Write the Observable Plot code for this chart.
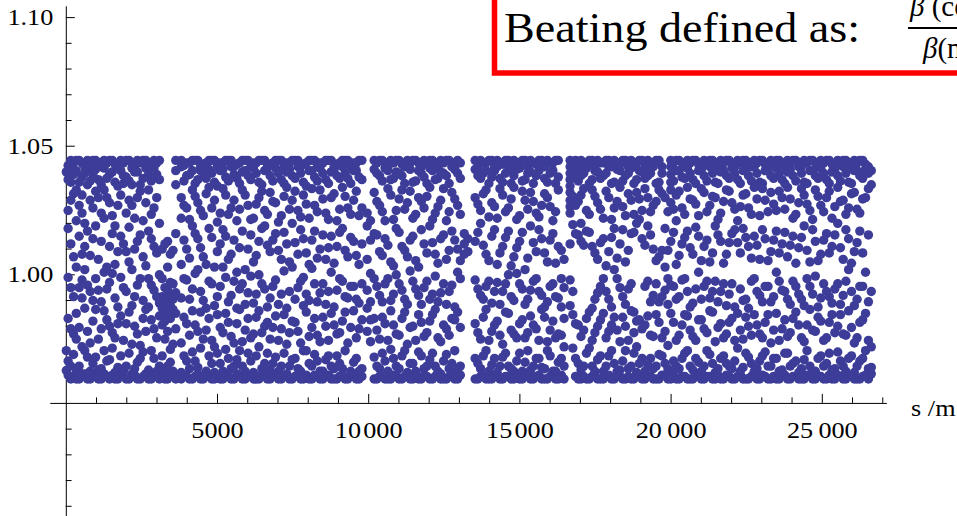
<!DOCTYPE html>
<html>
<head>
<meta charset="utf-8">
<script src="https://cdn.jsdelivr.net/npm/d3@7"></script>
<script src="https://cdn.jsdelivr.net/npm/@observablehq/plot@0.6"></script>
<style>
  html, body { margin: 0; padding: 0; background: #fff; overflow: hidden; }
  #wrap { position: relative; width: 957px; height: 516px; overflow: hidden; }
  #wrap > svg.plot { position: absolute; left: 0; top: 0; }
  #titlebox { position: absolute; left: 0; top: 0; pointer-events: none; }
</style>
</head>
<body>
<div id="wrap"></div>
<script>
// ---- data: each row is [s (m), beating values read at that s ...] ----
const sector1 = [
  [0, 1.040, 0.9705, 0.9628],
  [60, 1.0425, 1.037, 1.025, 1.018, 0.999, 0.983, 0.9665, 0.961],
  [150, 1.0445, 1.042, 1.036, 1.029, 1.012, 0.995, 0.979, 0.9645, 0.9595],
  [240, 1.0435, 1.039, 1.0315, 1.007, 0.9915, 0.977, 0.969, 0.9605],
  [330, 1.0445, 1.0405, 1.033, 1.021, 1.003, 0.985, 0.975, 0.962, 0.9595],
  [425, 1.0445, 1.036, 1.027, 1.015, 0.995, 0.9795, 0.9645, 0.9595],
  [520, 1.0435, 1.038, 1.031, 1.024, 1.008, 0.998, 0.991, 0.972, 0.9615],
  [610, 1.042, 1.0395, 1.020, 1.011, 1.002, 0.987, 0.9705, 0.9615],
  [700, 1.0445, 1.041, 1.035, 1.017, 0.996, 0.978, 0.968, 0.9595],
  [790, 1.0435, 1.0365, 1.029, 1.0075, 0.9935, 0.9735, 0.9625, 0.9595],
  [880, 1.0445, 1.039, 1.026, 1.014, 0.990, 0.982, 0.9655, 0.9605],
  [970, 1.0445, 1.041, 1.0325, 1.019, 0.9985, 0.9865, 0.968, 0.9605],
  [1060, 1.0435, 1.037, 1.030, 1.006, 0.994, 0.975, 0.963, 0.9595],
  [1155, 1.042, 1.035, 1.024, 1.013, 0.9895, 0.979, 0.9635, 0.9595],
  [1250, 1.0445, 1.0415, 1.033, 1.022, 1.001, 0.986, 0.9705, 0.9615],
  [1340, 1.0435, 1.0375, 1.030, 1.003, 0.9945, 0.9825, 0.9665, 0.9605],
  [1430, 1.0445, 1.039, 1.028, 1.011, 0.997, 0.980, 0.967, 0.9595],
  [1520, 1.0445, 1.040, 1.023, 1.016, 1.0005, 0.9775, 0.9715, 0.961],
  [1610, 1.043, 1.036, 1.019, 1.004, 0.991, 0.9755, 0.962, 0.9595],
  [1705, 1.042, 1.0345, 1.027, 1.009, 0.9875, 0.981, 0.964, 0.9595],
  [1800, 1.0445, 1.0405, 1.031, 1.015, 0.999, 0.984, 0.9685, 0.961],
  [1890, 1.0435, 1.0385, 1.0355, 1.012, 0.995, 0.9745, 0.9625, 0.9605],
  [1980, 1.0445, 1.038, 1.024, 1.009, 0.9935, 0.981, 0.9645, 0.9595],
  [2075, 1.0445, 1.0365, 1.029, 1.0185, 1.005, 0.9855, 0.9695, 0.9595],
  [2170, 1.0435, 1.0415, 1.035, 1.027, 1.002, 0.988, 0.973, 0.9615],
  [2260, 1.042, 1.040, 1.022, 1.010, 0.9915, 0.980, 0.9635, 0.961],
  [2350, 1.0445, 1.040, 1.030, 1.013, 0.996, 0.977, 0.966, 0.9595],
  [2445, 1.0435, 1.035, 1.0325, 1.0155, 0.9985, 0.9725, 0.9675, 0.9595],
  [2540, 1.0445, 1.0375, 1.021, 1.007, 0.990, 0.983, 0.970, 0.9605],
  [2630, 1.0445, 1.0415, 1.028, 1.0035, 0.9865, 0.978, 0.9615, 0.9605],
  [2720, 1.043, 1.039, 1.033, 1.017, 0.9985, 0.9875, 0.963, 0.9595],
  [2810, 1.042, 1.0365, 1.0235, 1.014, 0.996, 0.9825, 0.9705, 0.9595],
  [2900, 1.0445, 1.0415, 1.026, 1.011, 0.994, 0.979, 0.9675, 0.9615],
  [2990, 1.0435, 1.039, 1.030, 1.0085, 0.9915, 0.9755, 0.9625, 0.9605],
  [3080, 1.0445, 1.037, 1.020, 1.000, 0.989, 0.984, 0.9645, 0.9595],
  [3170, 1.010, 0.9985, 0.9915, 0.987, 0.9805, 0.9685, 0.9605],
  [3260, 1.012, 0.995, 0.990, 0.986, 0.982, 0.975, 0.9625, 0.9595],
  [3350, 1.013, 1.003, 0.994, 0.9895, 0.9845, 0.978, 0.9645, 0.9595],
  [3440, 1.008, 0.997, 0.9925, 0.988, 0.983, 0.971, 0.966, 0.9605],
  [3530, 1.0095, 0.9965, 0.9905, 0.9865, 0.973, 0.9625, 0.9605],
  [3620, 1.0445, 1.0405, 1.035, 1.016, 0.993, 0.985, 0.979, 0.9595]
];
const sector2 = [
  [3800, 1.0445, 1.042, 1.030, 1.022, 1.004, 0.991, 0.9735, 0.962, 0.9595],
  [3890, 1.0425, 1.0365, 1.027, 1.0135, 0.9985, 0.9835, 0.9685, 0.961],
  [3980, 1.0435, 1.0385, 1.026, 1.010, 0.998, 0.981, 0.9665, 0.9605],
  [4075, 1.0435, 1.039, 1.0215, 1.0065, 0.9905, 0.9765, 0.9635, 0.9595],
  [4170, 1.0445, 1.0405, 1.033, 1.019, 0.9945, 0.986, 0.970, 0.9595],
  [4260, 1.0445, 1.0355, 1.0305, 1.016, 1.0005, 0.9805, 0.9665, 0.9605],
  [4350, 1.0445, 1.037, 1.028, 1.014, 1.002, 0.978, 0.964, 0.9615],
  [4440, 1.042, 1.0405, 1.025, 1.0105, 0.9935, 0.9855, 0.9715, 0.9595],
  [4530, 1.043, 1.0395, 1.023, 1.007, 0.990, 0.975, 0.9595],
  [4625, 1.0435, 1.0375, 1.0315, 1.004, 0.987, 0.9785, 0.9625, 0.961],
  [4720, 1.0445, 1.041, 1.034, 1.018, 0.9975, 0.983, 0.9685, 0.9605],
  [4810, 1.0445, 1.0395, 1.026, 1.0145, 0.9965, 0.9745, 0.9655, 0.9595],
  [4900, 1.0445, 1.036, 1.029, 1.003, 0.988, 0.972, 0.962, 0.9595],
  [4995, 1.042, 1.0345, 1.0205, 1.009, 0.9915, 0.9845, 0.9695, 0.9605],
  [5090, 1.0435, 1.0405, 1.024, 1.012, 0.9955, 0.9795, 0.9655, 0.9595],
  [5180, 1.0435, 1.041, 1.0335, 1.0175, 1.003, 0.9775, 0.9625, 0.9595],
  [5270, 1.0445, 1.038, 1.031, 1.015, 0.999, 0.985, 0.971, 0.961],
  [5360, 1.0445, 1.0365, 1.0235, 1.006, 0.9895, 0.9815, 0.9675, 0.9605],
  [5450, 1.0445, 1.042, 1.026, 1.008, 0.992, 0.976, 0.9635, 0.9595],
  [5545, 1.042, 1.039, 1.029, 1.0135, 0.9975, 0.9735, 0.9645, 0.9595],
  [5640, 1.043, 1.0375, 1.021, 1.001, 0.987, 0.981, 0.967, 0.9615],
  [5730, 1.0435, 1.0355, 1.0255, 1.0105, 0.9945, 0.9865, 0.9705, 0.961],
  [5820, 1.0445, 1.040, 1.033, 1.017, 0.9965, 0.974, 0.9645, 0.9595],
  [5915, 1.0445, 1.0405, 1.031, 1.002, 0.9885, 0.9785, 0.9625, 0.9595],
  [6010, 1.0445, 1.0385, 1.027, 1.010, 0.993, 0.983, 0.9695, 0.9605],
  [6100, 1.042, 1.037, 1.0215, 1.0155, 0.9995, 0.9755, 0.9665, 0.9605],
  [6190, 1.0435, 1.0415, 1.022, 1.005, 0.989, 0.977, 0.962, 0.9595],
  [6280, 1.0435, 1.0395, 1.0275, 1.0075, 0.9925, 0.9835, 0.9685, 0.9595],
  [6370, 1.0445, 1.036, 1.030, 1.013, 1.000, 0.986, 0.972, 0.9595],
  [6465, 1.0445, 1.035, 1.0325, 1.018, 0.9965, 0.9775, 0.9635, 0.961],
  [6560, 1.0445, 1.0405, 1.025, 1.019, 0.9945, 0.980, 0.9655, 0.961],
  [6650, 1.042, 1.0415, 1.0235, 1.0115, 0.9875, 0.9815, 0.9695, 0.9595]
];
const sector3 = [
  [6740, 1.043, 1.0385, 1.032, 1.009, 0.991, 0.975, 0.963, 0.9595],
  [6830, 1.0435, 1.0365, 1.0285, 1.0135, 0.9955, 0.9795, 0.9655, 0.9605],
  [6920, 1.0445, 1.0415, 1.028, 1.016, 0.998, 0.984, 0.968, 0.9605],
  [7015, 1.0445, 1.0395, 1.0205, 1.0095, 0.9885, 0.9745, 0.9625, 0.9595],
  [7110, 1.0445, 1.037, 1.023, 1.006, 0.9925, 0.979, 0.9645, 0.9595],
  [7200, 1.042, 1.0355, 1.0305, 1.0165, 1.0015, 0.9845, 0.9695, 0.961],
  [7290, 1.0435, 1.040, 1.034, 1.012, 0.987, 0.973, 0.9615],
  [7380, 1.0435, 1.041, 1.0255, 1.005, 0.9935, 0.9775, 0.9645, 0.9595],
  [7470, 1.0445, 1.0385, 1.029, 1.020, 1.003, 0.982, 0.967, 0.9595],
  [7565, 1.0445, 1.0375, 1.0325, 1.0125, 0.9905, 0.9815, 0.9675, 0.9605],
  [7660, 1.0445, 1.042, 1.025, 1.008, 0.995, 0.978, 0.9635, 0.9605],
  [7750, 1.042, 1.0395, 1.0225, 1.0175, 0.9975, 0.9735, 0.9625, 0.9595],
  [7840, 1.043, 1.036, 1.031, 1.014, 0.999, 0.988, 0.9705, 0.9595],
  [7935, 1.0435, 1.0345, 1.0275, 1.0085, 0.9925, 0.9855, 0.9705, 0.961],
  [8030, 1.0445, 1.0405, 1.022, 1.004, 0.990, 0.976, 0.9655, 0.9595],
  [8120, 1.0445, 1.0405, 1.0335, 1.0135, 1.0025, 0.9795, 0.9645, 0.9595],
  [8210, 1.0445, 1.038, 1.027, 1.017, 0.9965, 0.983, 0.969, 0.961],
  [8300, 1.042, 1.0365, 1.0245, 1.0065, 0.9895, 0.9765, 0.9665, 0.9605],
  [8390, 1.0435, 1.0415, 1.033, 1.010, 0.993, 0.974, 0.9625, 0.9595],
  [8485, 1.0435, 1.0395, 1.0295, 1.0155, 0.9965, 0.9835, 0.9625, 0.9595],
  [8580, 1.0445, 1.037, 1.024, 1.006, 0.9885, 0.980, 0.967, 0.9605],
  [8670, 1.0445, 1.0355, 1.0215, 1.0105, 0.9935, 0.9745, 0.9685, 0.961],
  [8760, 1.0445, 1.040, 1.030, 1.015, 1.001, 0.985, 0.9645, 0.9595],
  [8855, 1.042, 1.041, 1.0315, 1.0045, 0.9875, 0.9805, 0.9635, 0.9595],
  [8950, 1.043, 1.0385, 1.021, 1.011, 0.994, 0.977, 0.9685, 0.9595],
  [9040, 1.0435, 1.0375, 1.0255, 1.0165, 0.9985, 0.9775, 0.9655, 0.9605],
  [9130, 1.0445, 1.042, 1.034, 1.018, 0.9975, 0.982, 0.9635, 0.961],
  [9220, 1.0445, 1.0395, 1.0305, 1.0095, 0.9915, 0.9855, 0.9705, 0.9595],
  [9310, 1.0445, 1.0375, 1.026, 1.007, 0.991, 0.9735, 0.9595],
  [9405, 1.042, 1.0355, 1.0235, 1.0145, 0.9955, 0.9795, 0.9625, 0.961],
  [9500, 1.0435, 1.0405, 1.029, 1.013, 0.9955, 0.986, 0.966, 0.9605],
  [9590, 1.0435, 1.0405, 1.0325, 1.0075, 0.9905, 0.9755, 0.9675, 0.9595],
  [9680, 1.0445, 1.038, 1.023, 1.004, 0.989, 0.979, 0.9625, 0.9595],
  [9775, 1.0445, 1.037, 1.026, 1.012, 0.9965, 0.9825, 0.9635, 0.9605],
  [9950, 1.024, 1.019, 1.006, 0.994, 0.987, 0.978],
  [10060, 1.021, 1.0135, 1.0005, 0.9895, 0.9825, 0.974],
  [10180, 1.0445, 1.041, 1.032, 1.016, 0.9985, 0.983, 0.968, 0.9595]
];
const sector4 = [
  [10270, 1.0435, 1.0395, 1.0285, 1.0155, 0.9955, 0.9785, 0.9645, 0.9595],
  [10360, 1.0445, 1.0385, 1.027, 1.009, 0.992, 0.975, 0.9635, 0.9605],
  [10450, 1.0445, 1.0365, 1.0245, 1.0075, 0.9895, 0.9835, 0.9695, 0.9605],
  [10540, 1.0435, 1.0415, 1.021, 1.014, 0.9965, 0.981, 0.9665, 0.9595],
  [10635, 1.042, 1.0405, 1.0335, 1.0115, 0.9985, 0.9745, 0.9625, 0.9595],
  [10730, 1.0445, 1.037, 1.031, 1.005, 0.990, 0.986, 0.971, 0.9595],
  [10820, 1.0435, 1.0375, 1.0215, 1.0035, 0.9925, 0.9805, 0.9675, 0.961],
  [10910, 1.0445, 1.040, 1.025, 1.018, 1.000, 0.977, 0.9645, 0.961],
  [11005, 1.0445, 1.0395, 1.0295, 1.0165, 0.9965, 0.9765, 0.9635, 0.9595],
  [11100, 1.043, 1.0385, 1.033, 1.011, 0.994, 0.983, 0.9685, 0.9595],
  [11190, 1.042, 1.0355, 1.0255, 1.0095, 0.9905, 0.9855, 0.9705, 0.9605],
  [11280, 1.0445, 1.042, 1.028, 1.007, 0.9885, 0.973, 0.962, 0.9605],
  [11370, 1.0435, 1.041, 1.0325, 1.0135, 1.0015, 0.9795, 0.9655, 0.9595],
  [11460, 1.0445, 1.036, 1.022, 1.015, 0.9975, 0.980, 0.9655, 0.9595],
  [11555, 1.0445, 1.0365, 1.0235, 1.0055, 0.9945, 0.9745, 0.9625, 0.961],
  [11650, 1.0435, 1.0405, 1.030, 1.003, 0.992, 0.9845, 0.970, 0.9595],
  [11740, 1.042, 1.0395, 1.0285, 1.0175, 0.9885, 0.9815, 0.9685, 0.9595],
  [11830, 1.0445, 1.038, 1.026, 1.012, 0.995, 0.976, 0.9635, 0.961],
  [11925, 1.0435, 1.0355, 1.0305, 1.0085, 0.9975, 0.9775, 0.9645, 0.9605],
  [12020, 1.0445, 1.0415, 1.034, 1.019, 0.9905, 0.982, 0.967, 0.9595],
  [12110, 1.0445, 1.0405, 1.0215, 1.0125, 0.9925, 0.9845, 0.9695, 0.9595],
  [12200, 1.043, 1.037, 1.024, 1.008, 0.9995, 0.9865, 0.9645, 0.9605],
  [12290, 1.042, 1.0375, 1.0265, 1.0045, 0.9895, 0.9755, 0.9625, 0.961],
  [12380, 1.0445, 1.040, 1.029, 1.014, 0.993, 0.974, 0.9615, 0.9595],
  [12475, 1.0435, 1.0395, 1.0335, 1.0155, 0.9965, 0.9805, 0.9665, 0.9595],
  [12570, 1.0445, 1.0385, 1.021, 1.006, 0.9885, 0.979, 0.969, 0.9595],
  [12660, 1.0445, 1.0355, 1.0245, 1.0095, 0.9935, 0.9765, 0.9635, 0.9605],
  [12750, 1.0435, 1.042, 1.032, 1.017, 0.996, 0.983, 0.9655, 0.961],
  [12845, 1.042, 1.041, 1.0295, 1.0135, 0.9875, 0.9825, 0.9705, 0.9595],
  [12940, 1.0445, 1.0395, 1.027, 1.010, 1.001, 0.9855, 0.963, 0.9595],
  [13030, 1.0435, 1.0375, 1.0235, 1.0055, 0.9985, 0.9795, 0.9645, 0.961],
  [13160, 1.016, 1.012, 1.008],
  [13280, 1.014, 1.009],
  [13520, 1.0445, 1.041, 1.030, 1.013, 0.998, 0.981, 0.9675, 0.9595],
  [13610, 1.042, 1.0385, 1.0275, 1.0165, 0.9945, 0.9775, 0.9655, 0.9595]
];
const sector5 = [
  [13700, 1.0445, 1.0375, 1.025, 1.020, 0.992, 0.975, 0.9635, 0.9605],
  [13790, 1.0435, 1.0395, 1.0315, 1.0115, 0.9905, 0.9835, 0.9685, 0.9605],
  [13880, 1.0435, 1.0405, 1.033, 1.008, 0.9955, 0.9865, 0.9705, 0.9595],
  [13975, 1.0445, 1.0355, 1.0225, 1.0055, 0.9975, 0.9745, 0.9625, 0.9595],
  [14070, 1.0445, 1.038, 1.028, 1.015, 0.989, 0.978, 0.965, 0.9595],
  [14160, 1.042, 1.0405, 1.0265, 1.0175, 0.9935, 0.9805, 0.9675, 0.961],
  [14250, 1.0445, 1.042, 1.022, 1.004, 0.997, 0.982, 0.962, 0.961],
  [14340, 1.0435, 1.0375, 1.0335, 1.0085, 0.9885, 0.9765, 0.9645, 0.9595],
  [14430, 1.043, 1.036, 1.031, 1.011, 0.9935, 0.973, 0.968, 0.9595],
  [14525, 1.0445, 1.0395, 1.0245, 1.0145, 0.9965, 0.9855, 0.9695, 0.9605],
  [14620, 1.0445, 1.0405, 1.026, 1.017, 1.000, 0.985, 0.9645, 0.9605],
  [14710, 1.042, 1.0355, 1.0295, 1.0035, 0.9915, 0.9785, 0.9635, 0.9595],
  [14800, 1.0445, 1.0385, 1.034, 1.007, 0.990, 0.977, 0.9625, 0.9595],
  [14895, 1.0435, 1.041, 1.0215, 1.0105, 1.0005, 0.9755, 0.9665, 0.961],
  [14990, 1.0435, 1.0415, 1.023, 1.013, 0.9965, 0.981, 0.9695, 0.9595],
  [15080, 1.0445, 1.0365, 1.0325, 1.0165, 0.9945, 0.9825, 0.9625, 0.9595],
  [15170, 1.0445, 1.037, 1.029, 1.002, 0.9885, 0.9755, 0.966, 0.961],
  [15260, 1.042, 1.0395, 1.0255, 1.0065, 0.9905, 0.9775, 0.9705, 0.9605],
  [15350, 1.0445, 1.040, 1.032, 1.019, 0.994, 0.984, 0.963, 0.9595],
  [15445, 1.0435, 1.0355, 1.0285, 1.0125, 0.9975, 0.9805, 0.9645, 0.9595],
  [15540, 1.043, 1.0385, 1.024, 1.009, 0.9985, 0.979, 0.9675, 0.9605],
  [15630, 1.0445, 1.0405, 1.0225, 1.0175, 0.9935, 0.9745, 0.9675, 0.961],
  [15720, 1.0445, 1.042, 1.027, 1.014, 0.992, 0.9865, 0.964, 0.9595],
  [15815, 1.042, 1.0375, 1.0315, 1.0085, 0.9875, 0.9835, 0.9635, 0.9595],
  [15910, 1.0445, 1.036, 1.030, 1.005, 0.9895, 0.974, 0.9705, 0.9595],
  [16000, 1.0435, 1.0395, 1.0265, 1.0135, 0.9955, 0.9785, 0.9685, 0.9605],
  [16090, 1.0435, 1.0405, 1.021, 1.016, 0.9965, 0.982, 0.9625, 0.961],
  [16180, 1.0445, 1.0355, 1.0245, 1.0045, 0.9915, 0.9755, 0.9625, 0.9595],
  [16270, 1.0445, 1.038, 1.033, 1.011, 0.991, 0.977, 0.966, 0.9595],
  [16370, 1.0095, 0.9985, 0.9875, 0.9765, 0.9675, 0.961],
  [16460, 1.006, 0.995, 0.983, 0.972, 0.9645, 0.9595],
  [16660, 1.0445, 1.042, 1.0395, 1.037, 1.0345, 1.032, 1.029, 1.0265, 1.024, 1.012, 0.998, 0.988],
  [16750, 1.0435, 1.038, 1.0305, 1.0195, 0.9935, 0.9845, 0.9715],
  [16840, 1.0445, 1.040, 1.027, 1.016, 0.981, 0.9675, 0.9605]
];
const sector6 = [
  [16930, 1.042, 1.0365, 1.0285, 1.0155, 0.9805, 0.9655, 0.9595],
  [17020, 1.0445, 1.0385, 1.031, 1.020, 1.013, 0.976, 0.963, 0.9595],
  [17110, 1.0435, 1.0395, 1.0335, 1.0115, 0.9785, 0.9645, 0.9605],
  [17200, 1.043, 1.0415, 1.025, 1.017, 0.983, 0.9695, 0.9595],
  [17295, 1.0445, 1.0355, 1.0235, 1.0165, 0.9855, 0.9715, 0.9595],
  [17390, 1.0445, 1.037, 1.033, 1.011, 0.987, 0.9745, 0.9645, 0.9605],
  [17480, 1.042, 1.0405, 1.0305, 1.0085, 0.9905, 0.9775, 0.9625, 0.961],
  [17570, 1.0445, 1.040, 1.028, 1.006, 0.993, 0.980, 0.967, 0.9595],
  [17665, 1.0435, 1.0375, 1.0255, 1.0125, 0.9955, 0.9825, 0.9685, 0.9595],
  [17760, 1.0435, 1.0385, 1.022, 1.014, 0.9985, 0.985, 0.9625, 0.9595],
  [17850, 1.0445, 1.0395, 1.0325, 1.0035, 0.9935, 0.9755, 0.9645, 0.9605],
  [17940, 1.0445, 1.042, 1.030, 1.009, 0.9905, 0.978, 0.9685, 0.961],
  [18030, 1.042, 1.0355, 1.0215, 1.0145, 0.9875, 0.9805, 0.9705, 0.9595],
  [18120, 1.0445, 1.036, 1.026, 1.018, 1.002, 0.9835, 0.9655, 0.9595],
  [18215, 1.0435, 1.041, 1.0285, 1.0065, 0.9985, 0.9785, 0.9625, 0.961],
  [18310, 1.043, 1.0405, 1.034, 1.012, 0.995, 0.974, 0.963, 0.9605],
  [18400, 1.0445, 1.0365, 1.0265, 1.0175, 0.9915, 0.9835, 0.9665, 0.9595],
  [18490, 1.0445, 1.0385, 1.023, 1.005, 0.9885, 0.980, 0.9705, 0.9595],
  [18585, 1.042, 1.0395, 1.0315, 1.0095, 0.9945, 0.9745, 0.9635, 0.9605],
  [18680, 1.0445, 1.0415, 1.029, 1.016, 0.9965, 0.986, 0.9645, 0.9595],
  [18770, 1.0435, 1.0355, 1.0235, 1.0165, 0.9855, 0.9775, 0.9695, 0.9595],
  [18860, 1.0435, 1.037, 1.032, 1.020, 0.982, 0.972, 0.962, 0.961],
  [18950, 1.0445, 1.0405, 1.0295, 1.0215, 0.9825, 0.9655, 0.961],
  [19040, 1.0445, 1.040, 1.025, 1.014, 0.979, 0.9675, 0.9595],
  [19135, 1.042, 1.0375, 1.0335, 1.0115, 0.9955, 0.9805, 0.9625, 0.9595],
  [19230, 1.0445, 1.0385, 1.030, 1.019, 0.9975, 0.984, 0.965, 0.9605],
  [19320, 1.0435, 1.0395, 1.0245, 1.0155, 0.9895, 0.9765, 0.9675, 0.9605],
  [19410, 1.043, 1.042, 1.027, 1.010, 0.992, 0.976, 0.9635, 0.9595],
  [19505, 1.0445, 1.0355, 1.0285, 1.0055, 0.9965, 0.9845, 0.9645, 0.9595],
  [19600, 1.0445, 1.036, 1.033, 1.007, 0.9895, 0.9815, 0.969, 0.9595],
  [19700, 1.042, 1.0395, 1.0315, 1.0095, 0.9915, 0.9755, 0.9685, 0.961],
  [19800, 1.030, 1.018, 1.003, 0.994, 0.978, 0.9655, 0.961],
  [19895, 1.0245, 1.0095, 0.9985, 0.9885, 0.9725, 0.9635, 0.9595],
  [19990, 1.0445, 1.042, 1.039, 1.036, 1.033, 1.028, 1.013, 0.996, 0.985, 0.9625, 0.9595]
];
const sector7 = [
  [20080, 1.0435, 1.0365, 1.0255, 1.0165, 0.9955, 0.9815, 0.9665, 0.961],
  [20170, 1.0445, 1.0405, 1.031, 1.021, 1.004, 0.9905, 0.9745, 0.9645, 0.9595],
  [20265, 1.0445, 1.0405, 1.0325, 1.0075, 0.9915, 0.9765, 0.9635, 0.9595],
  [20360, 1.0435, 1.038, 1.026, 1.012, 0.998, 0.9805, 0.9675, 0.9605],
  [20450, 1.042, 1.0375, 1.0235, 1.0145, 0.9985, 0.9845, 0.9695, 0.9605],
  [20540, 1.0445, 1.0415, 1.034, 1.017, 0.9935, 0.984, 0.9705, 0.9595],
  [20630, 1.0435, 1.0395, 1.0295, 1.0105, 0.9875, 0.9785, 0.9645, 0.9595],
  [20720, 1.0445, 1.037, 1.029, 1.008, 0.989, 0.976, 0.963, 0.9595],
  [20815, 1.0445, 1.0355, 1.0275, 1.0185, 0.9945, 0.9745, 0.9675, 0.961],
  [20910, 1.043, 1.0405, 1.023, 1.015, 1.001, 0.9825, 0.966, 0.961],
  [21000, 1.042, 1.041, 1.0335, 1.0055, 0.9905, 0.9825, 0.9625, 0.9595],
  [21090, 1.0445, 1.0385, 1.032, 1.011, 0.9955, 0.979, 0.9645, 0.9595],
  [21185, 1.0435, 1.0365, 1.0245, 1.0135, 0.9975, 0.9775, 0.9705, 0.9605],
  [21280, 1.0445, 1.042, 1.027, 1.005, 0.991, 0.986, 0.969, 0.9605],
  [21370, 1.0445, 1.0395, 1.0305, 1.0085, 0.9935, 0.9855, 0.9655, 0.9595],
  [21460, 1.0435, 1.036, 1.030, 1.019, 0.9975, 0.974, 0.962, 0.9595],
  [21550, 1.042, 1.0355, 1.0215, 1.0155, 0.9895, 0.9795, 0.9635, 0.961],
  [21640, 1.0445, 1.040, 1.024, 1.013, 0.9935, 0.981, 0.9675, 0.9595],
  [21735, 1.0435, 1.0405, 1.0285, 1.0045, 0.9965, 0.9755, 0.9685, 0.9595],
  [21830, 1.0445, 1.0385, 1.033, 1.008, 0.988, 0.977, 0.9655, 0.961],
  [21920, 1.0445, 1.0375, 1.0325, 1.0125, 0.9925, 0.9815, 0.9645, 0.9605],
  [22010, 1.043, 1.0415, 1.028, 1.016, 0.9965, 0.983, 0.9635, 0.9595],
  [22105, 1.042, 1.0395, 1.0255, 1.0175, 0.9875, 0.9745, 0.9665, 0.9595],
  [22200, 1.0445, 1.037, 1.021, 1.0125, 0.985, 0.9715, 0.9605],
  [22290, 1.0435, 1.0355, 1.0265, 1.0085, 0.9945, 0.9785, 0.9625, 0.961],
  [22380, 1.0445, 1.0405, 1.031, 1.018, 0.990, 0.975, 0.964, 0.9595],
  [22470, 1.0445, 1.041, 1.0315, 1.0145, 0.9905, 0.9835, 0.9695, 0.9595],
  [22560, 1.0435, 1.0385, 1.026, 1.011, 0.987, 0.980, 0.968, 0.9595],
  [22655, 1.042, 1.0365, 1.0235, 1.0065, 0.9975, 0.9765, 0.9655, 0.9605],
  [22750, 1.0445, 1.042, 1.034, 1.015, 0.9985, 0.9845, 0.9625, 0.961],
  [22840, 1.0435, 1.0395, 1.0295, 1.0115, 0.9935, 0.9805, 0.9635, 0.9595],
  [22930, 1.0445, 1.036, 1.023, 1.006, 0.992, 0.977, 0.9665, 0.9595],
  [23020, 1.0445, 1.0355, 1.0335, 1.0175, 0.9895, 0.9755, 0.9685, 0.961],
  [23110, 1.043, 1.0405, 1.029, 1.014, 0.9955, 0.9815, 0.970, 0.9605],
  [23205, 1.042, 1.0405, 1.0245, 1.0055, 0.9955, 0.9845, 0.9645, 0.9595],
  [23300, 1.0445, 1.0385, 1.032, 1.009, 0.9895, 0.9735, 0.9645, 0.9595],
  [23390, 1.0435, 1.0375, 1.0275, 1.0135, 0.9915, 0.9785, 0.9675, 0.9605]
];
const sector8 = [
  [23480, 1.0445, 1.0415, 1.025, 1.017, 1.001, 0.985, 0.9675, 0.9595],
  [23575, 1.0445, 1.0395, 1.0325, 1.0085, 0.9975, 0.9745, 0.9625, 0.9595],
  [23670, 1.0435, 1.037, 1.030, 1.012, 0.994, 0.979, 0.963, 0.961],
  [23760, 1.042, 1.0355, 1.0255, 1.0165, 0.9935, 0.9825, 0.9695, 0.961],
  [23850, 1.0445, 1.040, 1.034, 1.007, 0.9905, 0.976, 0.9695, 0.9595],
  [23940, 1.0435, 1.041, 1.0295, 1.0115, 0.9885, 0.9775, 0.9645, 0.9595],
  [24030, 1.0445, 1.0385, 1.022, 1.015, 0.9975, 0.983, 0.9655, 0.9605],
  [24125, 1.0445, 1.0365, 1.0235, 1.0045, 0.9955, 0.9855, 0.9665, 0.9605],
  [24220, 1.043, 1.042, 1.028, 1.0105, 0.9925, 0.9805, 0.962, 0.9595],
  [24310, 1.042, 1.0395, 1.0335, 1.0145, 0.9905, 0.9755, 0.9635, 0.9595],
  [24400, 1.0445, 1.036, 1.031, 1.019, 0.988, 0.974, 0.967, 0.9595],
  [24495, 1.0435, 1.0355, 1.0275, 1.0095, 0.9985, 0.9805, 0.9705, 0.961],
  [24590, 1.0445, 1.0405, 1.025, 1.005, 0.9955, 0.9865, 0.9645, 0.961],
  [24680, 1.0445, 1.0405, 1.0215, 1.0175, 0.9925, 0.9785, 0.9625, 0.9595],
  [24770, 1.0435, 1.0385, 1.033, 1.013, 0.9995, 0.978, 0.9625, 0.9595],
  [24860, 1.042, 1.0375, 1.0305, 1.0055, 0.9875, 0.9835, 0.9675, 0.9605],
  [24950, 1.0445, 1.0415, 1.027, 1.008, 0.991, 0.982, 0.9685, 0.9605],
  [25045, 1.0435, 1.0395, 1.0245, 1.0135, 0.9965, 0.9745, 0.9645, 0.9595],
  [25140, 1.0445, 1.037, 1.030, 1.016, 0.9935, 0.9755, 0.9655, 0.9595],
  [25230, 1.0445, 1.0355, 1.0325, 1.0085, 0.9915, 0.9815, 0.9695, 0.961],
  [25320, 1.043, 1.040, 1.022, 1.011, 0.989, 0.9845, 0.963, 0.9595],
  [25415, 1.042, 1.041, 1.0265, 1.0155, 0.9945, 0.9775, 0.9635, 0.9595],
  [25510, 1.0445, 1.0385, 1.034, 1.020, 0.9965, 0.980, 0.970, 0.961],
  [25600, 1.0435, 1.0365, 1.0285, 1.0105, 0.9885, 0.9845, 0.9665, 0.9605],
  [25690, 1.0445, 1.042, 1.029, 1.006, 0.992, 0.977, 0.9645, 0.9595],
  [25780, 1.0445, 1.0395, 1.0235, 1.0175, 0.9975, 0.9765, 0.9625, 0.9595],
  [25870, 1.0435, 1.036, 1.026, 1.014, 1.002, 0.986, 0.9675, 0.9605],
  [25965, 1.042, 1.0355, 1.0315, 1.0045, 0.9935, 0.9795, 0.9685, 0.961],
  [26060, 1.0445, 1.0405, 1.032, 1.009, 0.988, 0.9735, 0.962, 0.9595],
  [26150, 1.0435, 1.0405, 1.0255, 1.0125, 0.9905, 0.9755, 0.9645, 0.9595],
  [26240, 1.0445, 1.0385, 1.024, 1.017, 0.9955, 0.9815, 0.9665, 0.9595],
  [26335, 1.0445, 1.0375, 1.0295, 1.0085, 0.9955, 0.9825, 0.9675, 0.9605],
  [26430, 1.043, 1.041, 1.030, 1.001, 0.985, 0.9705, 0.961, 0.9605],
  [26525, 1.042, 1.0395, 1.0335, 1.0155, 0.9895, 0.9745, 0.9635, 0.9595],
  [26620, 1.0405, 1.035, 0.9935, 0.972, 0.964, 0.9615]
];

// axis / tick text
const xTickValues = [5000, 10000, 15000, 20000, 25000];
const xTickLabels = ["5000", "10\u200A000", "15\u200A000", "20\u2009000", "25\u2009000"];
const yTickValues = [1.00, 1.05, 1.10];
const yTickLabels = ["1.00", "1.05", "1.10"];
const xAxisLabel = "s /m";
const axisCrossY = 0.95;   // where the horizontal axis crosses
const titleText = "Beating defined as:";
const fracNum = "\u03B2 (corrected)";
const fracDen = "\u03B2(nominal)";

// ---- build ----
const points = [sector1, sector2, sector3, sector4, sector5, sector6, sector7, sector8]
  .flat()
  .flatMap(([s, ...vals]) => vals.map(beat => ({s, beat})));

const W = 957, H = 516;
const xDomain = [-2176, 29471];
const yDomain = [0.90603, 1.10665];
const pxPerX = W / (xDomain[1] - xDomain[0]);
const pxPerY = H / (yDomain[1] - yDomain[0]);
const px2x = p => p / pxPerX;
const px2y = p => p / pxPerY;

const xMinor = d3.range(1000, 27001, 1000).filter(v => v % 5000 !== 0);
const yMinor = d3.range(91, 111).map(v => v / 100).filter(v => Math.abs(v * 100 % 5) > 1e-6);

const font = "Liberation Serif, Times New Roman, serif";
const col = "#3d3d99";

const chart = Plot.plot({
  width: W, height: H,
  marginTop: 0, marginRight: 0, marginBottom: 0, marginLeft: 0,
  x: {domain: xDomain, axis: null},
  y: {domain: yDomain, axis: null},
  style: {fontFamily: font, background: "white", overflow: "visible"},
  marks: [
    Plot.ruleY([axisCrossY], {x1: -px2x(15.5), x2: 27150, stroke: "black", strokeWidth: 1}),
    Plot.ruleX([0], {y1: yDomain[0], y2: 1.00 + px2y(268), stroke: "black", strokeWidth: 1}),
    Plot.ruleX(xTickValues, {y1: axisCrossY, y2: axisCrossY + px2y(9), stroke: "black", strokeWidth: 1}),
    Plot.ruleX(xMinor, {y1: axisCrossY, y2: axisCrossY + px2y(5.5), stroke: "black", strokeWidth: 1}),
    Plot.ruleY(yTickValues, {x1: 0, x2: px2x(9), stroke: "black", strokeWidth: 1}),
    Plot.ruleY(yMinor, {x1: 0, x2: px2x(5.8), stroke: "black", strokeWidth: 1}),
    Plot.text(xTickValues, {x: d => d, y: () => axisCrossY, text: (d, i) => xTickLabels[i],
      dy: 27, fontSize: 23, fill: "black", fontFamily: font}),
    Plot.text(yTickValues, {x: () => 0, y: d => d, text: (d, i) => yTickLabels[i],
      dx: -13, textAnchor: "end", fontSize: 23, fill: "black", fontFamily: font}),
    Plot.text([xAxisLabel], {y: () => axisCrossY, frameAnchor: "right", textAnchor: "end",
      dx: -2, dy: 5, fontSize: 23, fill: "black", fontFamily: font}),
    Plot.dot(points, {x: "s", y: "beat", r: 4.7, fill: col, stroke: "none"})
  ]
});

const wrap = document.getElementById("wrap");
chart.classList.add("plot");
wrap.appendChild(chart);

// horizontal stretch of the serif labels (source image is stretched)
d3.select(chart).selectAll("text").each(function () {
  const w = this.getComputedTextLength();
  if (w > 0) {
    this.setAttribute("textLength", (w * 1.14).toFixed(1));
    this.setAttribute("lengthAdjust", "spacingAndGlyphs");
  }
});

// title box (red frame, top right, clipped by the window as in the source)
const tb = d3.select(wrap).append("svg")
  .attr("id", "titlebox").attr("width", W).attr("height", H)
  .style("font-family", font);
tb.append("rect").attr("x", 494.5).attr("y", -20).attr("width", 700).attr("height", 93)
  .attr("fill", "white").attr("stroke", "#ff0000").attr("stroke-width", 5.5);
tb.append("text").attr("x", 504).attr("y", 42).attr("font-size", 43)
  .attr("fill", "black").attr("textLength", 356).attr("lengthAdjust", "spacingAndGlyphs")
  .text(titleText);
tb.append("text").attr("x", 910).attr("y", 16).attr("font-size", 29).attr("fill", "black")
  .call(t => {
    t.append("tspan").attr("font-style", "italic").text(fracNum.slice(0, 1));
    t.append("tspan").text(fracNum.slice(1));
  });
tb.append("line").attr("x1", 908).attr("x2", 1200).attr("y1", 28).attr("y2", 28)
  .attr("stroke", "black").attr("stroke-width", 1.8);
tb.append("text").attr("x", 923).attr("y", 58).attr("font-size", 29).attr("fill", "black")
  .call(t => {
    t.append("tspan").attr("font-style", "italic").text(fracDen.slice(0, 1));
    t.append("tspan").text(fracDen.slice(1));
  });
</script>
</body>
</html>
